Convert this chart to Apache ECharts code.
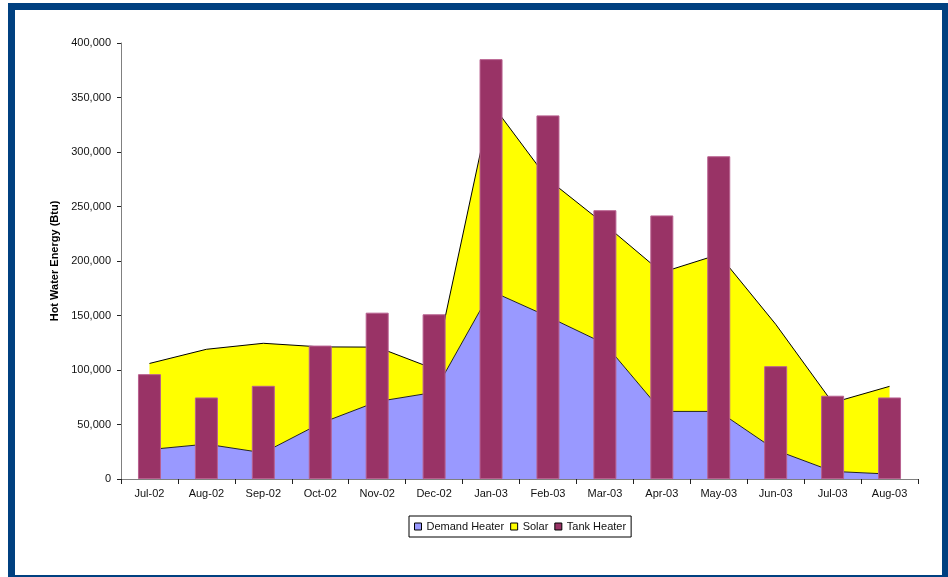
<!DOCTYPE html>
<html>
<head>
<meta charset="utf-8">
<script src="https://cdn.jsdelivr.net/npm/echarts@6/dist/echarts.min.js"></script>
<style>
  html, body { margin: 0; padding: 0; background: #ffffff; width: 948px; height: 577px; overflow: hidden; }
  #chart { position: absolute; left: 0; top: 0; width: 948px; height: 577px; }
  #frame { position: absolute; left: 8px; top: 3px; width: 927px; height: 565px; border: 7px solid #004080; pointer-events: none; }
</style>
</head>
<body>
<div id="chart"></div>
<div id="frame"></div>
<script>
const categories = ['Jul-02','Aug-02','Sep-02','Oct-02','Nov-02','Dec-02','Jan-03','Feb-03','Mar-03','Apr-03','May-03','Jun-03','Jul-03','Aug-03'];
const demandHeater = [27000, 32000, 24000, 51000, 71000, 79500, 172500, 149000, 124000, 62000, 62000, 26500, 7000, 4500];
const solar = [79000, 87000, 100500, 70200, 50000, 21500, 172500, 126000, 109500, 127500, 144000, 115500, 63000, 80500];
const tankHeater = [96200, 74800, 85500, 122400, 152600, 151100, 385200, 333600, 246600, 241800, 296100, 103500, 76400, 74800];
const yTicks = { min: 0, max: 400000, interval: 50000 };

const chart = echarts.init(document.getElementById('chart'), null, { renderer: 'canvas' });
const font = 'Arial, "Liberation Sans", sans-serif';
chart.setOption({
  animation: false,
  backgroundColor: '#ffffff',
  textStyle: { fontFamily: font },
  grid: { left: 121, right: 30, top: 43, bottom: 98, containLabel: false },
  legend: {
    left: 409, top: 516,
    orient: 'horizontal',
    icon: 'rect',
    itemWidth: 7, itemHeight: 7, itemGap: 6,
    padding: [5, 5, 5, 5],
    borderColor: '#000', borderWidth: 1,
    itemStyle: { borderColor: '#000', borderWidth: 1 },
    textStyle: { fontSize: 11, color: '#111', fontFamily: font },
    data: ['Demand Heater', 'Solar', 'Tank Heater']
  },
  xAxis: {
    type: 'category',
    data: categories,
    boundaryGap: true,
    axisLine: { lineStyle: { color: '#808080', width: 1 } },
    axisTick: { show: true, length: 5, lineStyle: { color: '#222' } },
    axisLabel: { fontSize: 11, color: '#111', margin: 9, fontFamily: font, interval: 0 },
    splitLine: { show: false }
  },
  yAxis: {
    type: 'value',
    min: yTicks.min, max: yTicks.max, interval: yTicks.interval,
    name: 'Hot Water Energy (Btu)',
    nameLocation: 'middle',
    nameGap: 59,
    nameRotate: 90,
    nameTextStyle: { fontSize: 11, fontWeight: 'bold', color: '#000', fontFamily: font },
    axisLine: { show: true, lineStyle: { color: '#808080', width: 1 } },
    axisTick: { show: true, length: 4, lineStyle: { color: '#222' } },
    axisLabel: { fontSize: 11, color: '#111', margin: 10, fontFamily: font,
      formatter: v => v.toLocaleString('en-US') },
    splitLine: { show: false }
  },
  series: [
    {
      name: 'Demand Heater', type: 'line', stack: 'energy',
      data: demandHeater, symbol: 'none', smooth: false,
      color: '#9999FF',
      itemStyle: { color: '#9999FF' },
      lineStyle: { color: '#222', width: 1 },
      areaStyle: { color: '#9999FF', opacity: 1 },
      z: 1
    },
    {
      name: 'Solar', type: 'line', stack: 'energy',
      data: solar, symbol: 'none', smooth: false,
      color: '#FFFF00',
      itemStyle: { color: '#FFFF00' },
      lineStyle: { color: '#000', width: 1 },
      areaStyle: { color: '#FFFF00', opacity: 1 },
      z: 1
    },
    {
      name: 'Tank Heater', type: 'bar',
      data: tankHeater, barWidth: 23,
      color: '#993366',
      itemStyle: { color: '#993366', borderColor: '#B8608F', borderWidth: 1 },
      z: 3
    }
  ]
});
</script>
</body>
</html>
